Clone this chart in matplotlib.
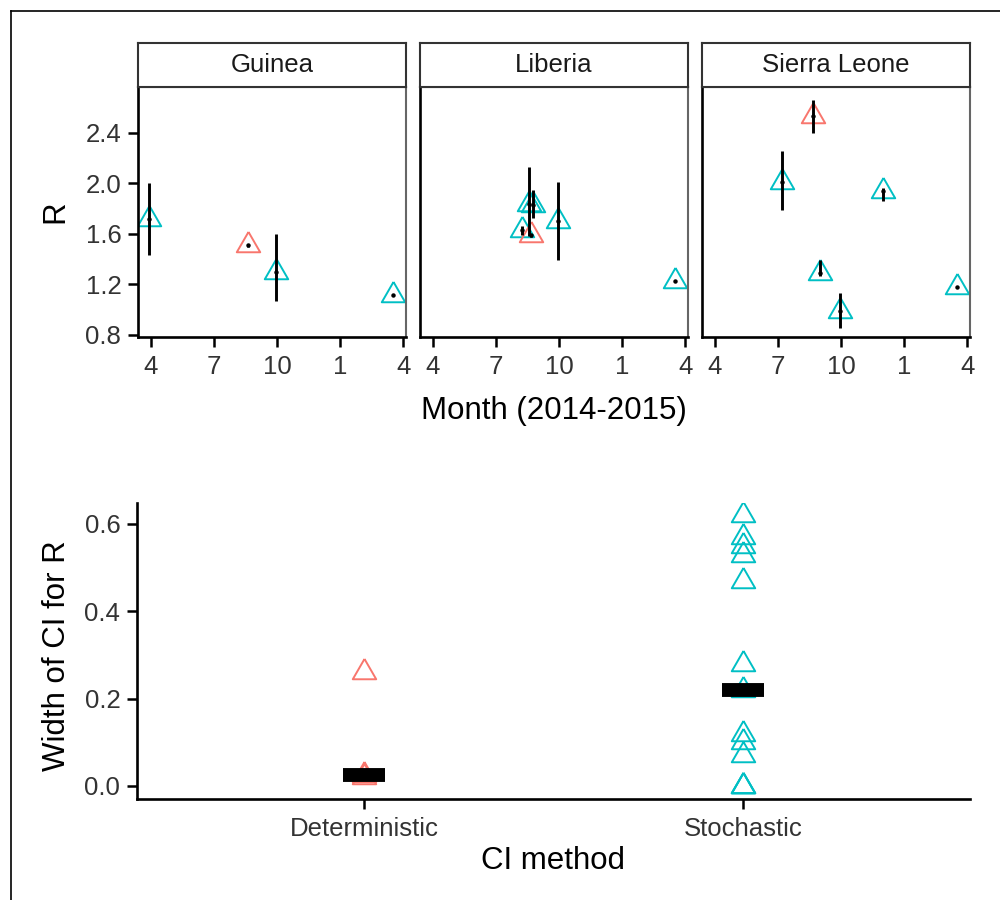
import matplotlib

matplotlib.use("Agg")
import matplotlib.pyplot as plt
import numpy as np
from matplotlib.lines import Line2D

plt.rcParams["font.family"] = ["Liberation Sans", "DejaVu Sans"]

RED = "#F8766D"
CYAN = "#00BFC4"
TICK_COL = "#333333"

# month index: 4 = Apr 2014, 13 = Jan 2015, 16 = Apr 2015
guinea_month = [3.9, 8.62, 9.93, 15.5]
guinea_r = [1.72, 1.51, 1.30, 1.12]
guinea_lo = [1.43, 1.50, 1.07, 1.12]
guinea_hi = [2.00, 1.52, 1.60, 1.12]
guinea_method = ["Stochastic", "Deterministic", "Stochastic", "Stochastic"]

liberia_month = [8.55, 8.74, 8.23, 8.67, 9.93, 15.48]
liberia_r = [1.84, 1.83, 1.63, 1.59, 1.70, 1.23]
liberia_lo = [1.58, 1.73, 1.595, 1.575, 1.39, 1.23]
liberia_hi = [2.13, 1.95, 1.665, 1.60, 2.01, 1.23]
liberia_method = ["Stochastic", "Stochastic", "Stochastic", "Deterministic",
                  "Stochastic", "Stochastic"]

sl_month = [8.64, 7.16, 12.0, 8.98, 9.93, 15.5]
sl_r = [2.53, 2.01, 1.94, 1.29, 0.99, 1.18]
sl_lo = [2.40, 1.79, 1.86, 1.27, 0.855, 1.18]
sl_hi = [2.66, 2.26, 1.96, 1.39, 1.135, 1.18]
sl_method = ["Deterministic", "Stochastic", "Stochastic", "Stochastic",
             "Stochastic", "Stochastic"]

countries = ["Guinea", "Liberia", "Sierra Leone"]
panels = [
    (guinea_month, guinea_r, guinea_lo, guinea_hi, guinea_method),
    (liberia_month, liberia_r, liberia_lo, liberia_hi, liberia_method),
    (sl_month, sl_r, sl_lo, sl_hi, sl_method),
]

month_ticks = [4, 7, 10, 13, 16]
month_labels = ["4", "7", "10", "1", "4"]
r_ticks = [0.8, 1.2, 1.6, 2.0, 2.4]
methods = ["Deterministic", "Stochastic"]
method_colors = {"Deterministic": RED, "Stochastic": CYAN}

# open triangle centred on its centroid, like R's pch = 2
TRI = [(0, 1), (-0.866, -0.5), (0.866, -0.5), (0, 1)]
MS = 19.5
MEW = 1.4
TICK_FS = 18.5
TITLE_FS = 22.5

fig = plt.figure(figsize=(10, 9), dpi=100)

lefts = [0.138, 0.420, 0.702]
pw, pb, ph = 0.268, 0.6256, 0.2778
for i, (name, (mo, r, lo, hi, meth)) in enumerate(zip(countries, panels)):
    ax = fig.add_axes([lefts[i], pb, pw, ph])
    for m, v, mt in zip(mo, r, meth):
        ax.plot(m, v, linestyle="none", marker=TRI, markersize=MS,
                markerfacecolor="none", markeredgecolor=method_colors[mt],
                markeredgewidth=MEW, zorder=2)
    ax.vlines(mo, lo, hi, color="black", linewidth=2.1, zorder=3)
    ax.plot(mo, r, linestyle="none", marker="o", markersize=2.2,
            color="black", zorder=4)
    ax.set_xlim(3.38, 16.12)
    ax.set_ylim(0.784, 2.764)
    ax.set_xticks(month_ticks)
    ax.set_xticklabels(month_labels)
    ax.tick_params(axis="x", length=7, width=1.8, pad=6, labelsize=TICK_FS,
                   labelcolor=TICK_COL)
    if i == 0:
        ax.set_yticks(r_ticks)
        ax.set_yticklabels([f"{t:.1f}" for t in r_ticks])
        ax.tick_params(axis="y", length=7, width=1.8, pad=5, labelsize=TICK_FS,
                       labelcolor=TICK_COL)
    else:
        ax.set_yticks([])
    for s in ("left", "bottom"):
        ax.spines[s].set_linewidth(1.9)
        ax.spines[s].set_color("black")
    for s in ("top", "right"):
        ax.spines[s].set_linewidth(1.5)
        ax.spines[s].set_color("#666666")

    # facet strip
    sax = fig.add_axes([lefts[i], pb + ph, pw, 0.0489])
    sax.set_xticks([])
    sax.set_yticks([])
    for s in sax.spines.values():
        s.set_linewidth(1.5)
        s.set_color("#333333")
    sax.text(0.5, 0.5, name, ha="center", va="center", fontsize=TICK_FS,
             color="#1a1a1a", transform=sax.transAxes)

fig.text(0.055, pb + ph / 2, "R", rotation=90, ha="center", va="center",
         fontsize=TITLE_FS)
fig.text(0.554, 0.543, "Month (2014-2015)", ha="center", va="center",
         fontsize=TITLE_FS)

# CI widths by method
widths = {m: [] for m in methods}
for mo, r, lo, hi, meth in panels:
    for l, h, mt in zip(lo, hi, meth):
        widths[mt].append(h - l)

bx = fig.add_axes([0.137, 0.1122, 0.833, 0.3289])
for j, mt in enumerate(methods):
    w = widths[mt]
    bx.plot([j + 1] * len(w), w, linestyle="none", marker=TRI, markersize=MS,
            markerfacecolor="none", markeredgecolor=method_colors[mt],
            markeredgewidth=MEW, zorder=2)
    med = np.median(w)
    bx.plot([j + 1 - 0.055, j + 1 + 0.055], [med, med], color="black",
            linewidth=10, solid_capstyle="butt", zorder=3)
bx.set_xlim(0.4, 2.6)
bx.set_ylim(-0.030, 0.648)
bx.set_xticks([1, 2])
bx.set_xticklabels(methods)
bx.set_yticks([0.0, 0.2, 0.4, 0.6])
bx.set_yticklabels(["0.0", "0.2", "0.4", "0.6"])
bx.tick_params(length=7, width=1.8, pad=6, labelsize=TICK_FS,
               labelcolor=TICK_COL)
bx.tick_params(axis="y", pad=5)
for s in ("top", "right"):
    bx.spines[s].set_visible(False)
for s in ("left", "bottom"):
    bx.spines[s].set_linewidth(1.9)

fig.text(0.057, 0.272, "Width of CI for R", rotation=90, ha="center",
         va="center", fontsize=TITLE_FS)
fig.text(0.553, 0.043, "CI method", ha="center", va="center",
         fontsize=TITLE_FS)

# image frame (top and left edges)
fig.add_artist(Line2D([0.011, 1.0], [1 - 0.0122, 1 - 0.0122], color="black",
                      linewidth=1.2, transform=fig.transFigure))
fig.add_artist(Line2D([0.011, 0.011], [0.0, 1 - 0.0122], color="black",
                      linewidth=1.2, transform=fig.transFigure))

fig.savefig("out.png", dpi=100)
